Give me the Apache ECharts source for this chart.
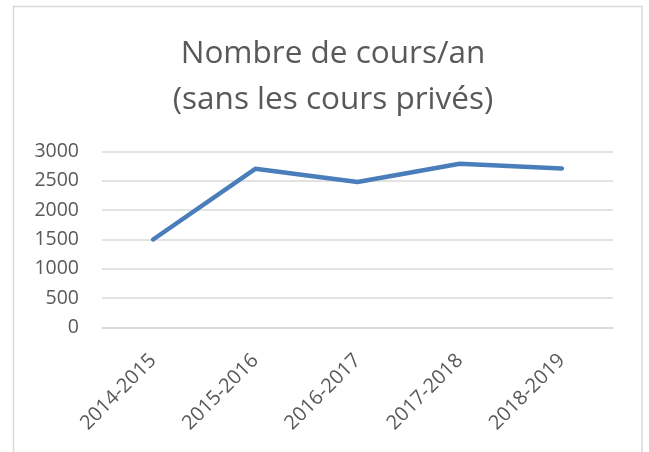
<!DOCTYPE html>
<html>
<head>
<meta charset="utf-8">
<script src="https://cdn.jsdelivr.net/npm/echarts@6/dist/echarts.min.js"></script>
<style>
html,body{margin:0;padding:0;background:#fff;}
#chart{width:649px;height:452px;}
</style>
</head>
<body>
<div id="chart"></div>
<script>
var titleText = 'Nombre de cours/an\n(sans les cours privés)';
var categories = ['2014-2015', '2015-2016', '2016-2017', '2017-2018', '2018-2019'];
var values = [1500, 2705, 2480, 2790, 2710];
var yTicks = { min: 0, max: 3000, interval: 500 };

var chart = echarts.init(document.getElementById('chart'), null, { renderer: 'canvas' });
var font = '"Open Sans", sans-serif';
chart.setOption({
  backgroundColor: '#ffffff',
  animation: false,
  graphic: [{
    type: 'rect',
    shape: { x: 13.5, y: 6.5, width: 628.5, height: 470 },
    style: { fill: 'none', stroke: '#d9d9d9', lineWidth: 1.5 },
    silent: true, z: -1
  }],
  title: {
    text: titleText,
    left: 328,
    top: 26,
    textAlign: 'center',
    textStyle: { fontFamily: font, fontSize: 31.5, fontWeight: 'normal', color: '#595959', lineHeight: 46 }
  },
  grid: { left: 102, right: 36, top: 151.5, bottom: 124.5, containLabel: false },
  xAxis: {
    type: 'category',
    data: categories,
    boundaryGap: true,
    axisLine: { show: true, lineStyle: { color: '#d9d9d9', width: 1.5 } },
    axisTick: { show: false },
    axisLabel: { rotate: 45, fontFamily: font, fontSize: 20, color: '#595959', margin: 30 }
  },
  yAxis: {
    type: 'value',
    min: yTicks.min, max: yTicks.max, interval: yTicks.interval,
    axisLine: { show: false },
    axisTick: { show: false },
    splitLine: { lineStyle: { color: '#d9d9d9', width: 1.5 } },
    axisLabel: { fontFamily: font, fontSize: 19.5, color: '#595959', margin: 23,
      formatter: function (v) { return String(v); } }
  },
  series: [{
    type: 'line',
    data: values,
    symbol: 'none',
    lineStyle: { color: '#4a7ebb', width: 4.5, cap: 'round', join: 'round' }
  }]
});
</script>
</body>
</html>
